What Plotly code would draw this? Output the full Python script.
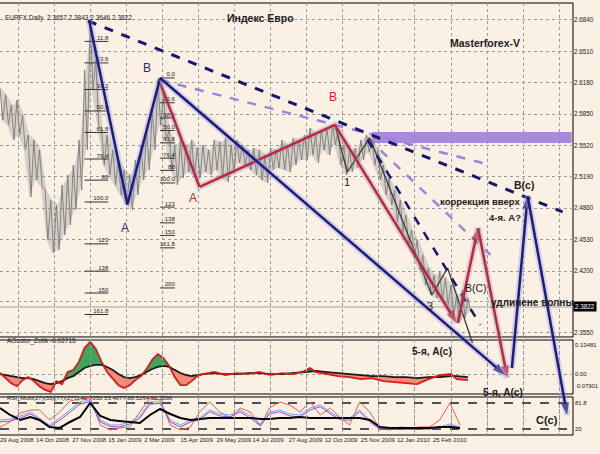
import plotly.graph_objects as go

# ---------------- axis ticks ----------------
date_tick_bars = [0, 32, 64, 96, 128, 160, 192, 224, 256, 288, 320, 352, 384]
date_tick_text = ["29 Aug 2008", "14 Oct 2008", "27 Nov 2008", "15 Jan 2009", "2 Mar 2009",
                  "15 Apr 2009", "29 May 2009", "14 Jul 2009", "27 Aug 2009", "12 Oct 2009",
                  "25 Nov 2009", "12 Jan 2010", "25 Feb 2010"]
grid_bars = [16, 48, 80, 112, 144, 176, 208, 240, 272, 304, 336, 368, 400, 432, 464, 496]
price_ticks = [2.6840, 2.6510, 2.6180, 2.5850, 2.5520, 2.5190, 2.4860, 2.4530, 2.4200, 2.3880, 2.3550]
price_tick_text = ["2.6840", "2.6510", "2.6180", "2.5850", "2.5520", "2.5190", "2.4860", "2.4530",
                   "2.4200", "", "2.3550"]

# ---------------- price (high / low, every 5 bars) ----------------
price_bars = [0, 5, 10, 15, 20, 25, 30, 35, 40, 45, 50, 55, 60, 65, 70, 75, 80, 85, 90, 95,
              100, 105, 110, 115, 120, 125, 130, 135, 140, 145, 150, 155, 160, 165, 170, 175,
              180, 185, 190, 195, 200, 205, 210, 215, 220, 225, 230, 235, 240, 245, 250, 255,
              260, 265, 270, 275, 280, 285, 290, 295, 300, 305, 310, 315, 320, 325, 330, 335,
              340, 345, 350, 355, 360, 365, 370, 375, 380, 385, 390, 395, 400, 405, 410, 415]
price_high = [2.6125, 2.6051, 2.5946, 2.5998, 2.5841, 2.5630, 2.5578, 2.5473, 2.5052, 2.4947,
              2.4894, 2.5105, 2.5210, 2.5315, 2.5578, 2.6314, 2.6840, 2.6419, 2.5683, 2.5630,
              2.5473, 2.5368, 2.5262, 2.5210, 2.5368, 2.5525, 2.5683, 2.5893, 2.6209, 2.6051,
              2.5683, 2.5525, 2.5578, 2.5525, 2.5578, 2.5494, 2.5525, 2.5473, 2.5578, 2.5557,
              2.5599, 2.5525, 2.5578, 2.5525, 2.5473, 2.5494, 2.5473, 2.5420, 2.5494, 2.5473,
              2.5578, 2.5525, 2.5599, 2.5578, 2.5630, 2.5704, 2.5630, 2.5683, 2.5704, 2.5736,
              2.5683, 2.5525, 2.5473, 2.5494, 2.5578, 2.5630, 2.5578, 2.5473, 2.5315, 2.5178,
              2.5052, 2.4947, 2.4789, 2.4632, 2.4526, 2.4369, 2.4232, 2.4158, 2.4190, 2.4127,
              2.4053, 2.3948, 2.4001, 2.3916]
price_low = [2.5788, 2.5736, 2.5578, 2.5630, 2.5473, 2.4979, 2.5157, 2.5084, 2.4526, 2.4390,
             2.4421, 2.4579, 2.4684, 2.4842, 2.5052, 2.5473, 2.6104, 2.5736, 2.5315, 2.5210,
             2.5105, 2.5000, 2.4894, 2.4842, 2.5000, 2.5157, 2.5262, 2.5473, 2.5736, 2.5578,
             2.5262, 2.5105, 2.5178, 2.5241, 2.5210, 2.5178, 2.5241, 2.5210, 2.5262, 2.5178,
             2.5136, 2.5241, 2.5336, 2.5315, 2.5262, 2.5210, 2.5157, 2.5126, 2.5262, 2.5283,
             2.5262, 2.5241, 2.5315, 2.5368, 2.5368, 2.5420, 2.5336, 2.5473, 2.5420, 2.5525,
             2.5315, 2.5210, 2.5241, 2.5283, 2.5368, 2.5452, 2.5315, 2.5157, 2.5000, 2.4894,
             2.4716, 2.4610, 2.4474, 2.4337, 2.4211, 2.4053, 2.3948, 2.3916, 2.3895, 2.3843,
             2.3738, 2.3664, 2.3706, 2.3769]
last_close = 2.3822
header_text = "EURFX,Daily  2.3657 2.3843 2.3646 2.3822"

# ---------------- wave / trend lines (bar index, price) ----------------
navy_wave_bars, navy_wave_price = [79, 113, 142], [2.6840, 2.4900, 2.6230]
navy_long_bars, navy_long_price = [142, 448], [2.6230, 2.3107]
navy_up_bars, navy_up_price = [454, 468], [2.3180, 2.4989]
navy_down_bars, navy_down_price = [468, 503], [2.4989, 2.2686]
navy_dash_top_bars, navy_dash_top_price = [78, 499], [2.6830, 2.4821]
navy_dash_ch_bars, navy_dash_ch_price = [326, 426], [2.5578, 2.3633]
red_wave_bars, red_wave_price = [142, 177, 297, 405], [2.6180, 2.5084, 2.5736, 2.3654]
red_up_bars, red_up_price = [406, 424], [2.3654, 2.4653]
red_down_bars, red_down_price = [424, 450], [2.4653, 2.3075]
lav_dash1_bars, lav_dash1_price = [142, 435], [2.6209, 2.5315]
lav_dash2_bars, lav_dash2_price = [326, 435], [2.5599, 2.4369]
gray_wave_bars = [297, 308, 328, 383, 397, 419]
gray_wave_price = [2.5736, 2.5241, 2.5599, 2.3948, 2.4232, 2.3443]
zone_bars, zone_price = [330, 507], [2.5547, 2.5662]

# ---------------- Fibonacci grids ----------------
fib1_bars, fib1_high, fib1_low = [75, 96], 2.6840, 2.4926
fib1_levels = [11.8, 23.6, 38.2, 50.0, 61.8, 76.4, 88.0, 100.0, 123.0, 138.0, 150.0, 161.8]
fib1_text = ["11.8", "23.6", "38.2", "50.0", "61.8", "76.4", "88", "100.0", "123", "138", "150", "161.8"]
fib2_bars, fib2_high, fib2_low = [142, 155], 2.6230, 2.5126
fib2_levels = [0.0, 23.6, 38.2, 50.0, 61.8, 76.4, 88.0, 100.0, 123.0, 138.0, 150.0, 161.8, 200.0]
fib2_text = ["0.0", "23.6", "38.2", "50.0", "61.8", "76.4", "88", "100.0", "123", "138", "150", "161.8", "200"]

# ---------------- oscillator ----------------
osc_bars = [0, 5, 10, 15, 20, 25, 30, 35, 40, 45, 50, 55, 60, 65, 70, 75, 80, 85, 90, 95, 100,
            105, 110, 115, 120, 125, 130, 135, 140, 145, 150, 155, 160, 165, 170, 175, 180,
            190, 200, 210, 220, 230, 240, 250, 260, 270, 275, 280, 290, 300, 310, 320, 330,
            340, 350, 360, 370, 380, 390, 400, 405, 415]
osc_value = [0.004, -0.016, -0.036, -0.048, -0.024, -0.012, -0.028, -0.048, -0.063, -0.071,
             -0.028, -0.040, 0.008, 0.016, 0.048, 0.103, 0.127, 0.099, 0.048, 0.008, -0.016,
             -0.044, -0.055, -0.044, -0.024, -0.008, 0.020, 0.056, 0.079, 0.063, 0.032,
             -0.012, -0.044, -0.044, -0.028, -0.008, 0.000,
             0.008, -0.004, 0.004, 0.000, 0.008, -0.004, 0.004, 0.000,
             0.012, 0.024, 0.008,
             0.000, -0.008, -0.012, -0.020, -0.016, -0.028, -0.032, -0.036, -0.040, -0.020,
             -0.004, 0.000, -0.020, -0.024]
osc_signal = [0.000, -0.004, -0.008, -0.012, -0.016, -0.016, -0.020, -0.028, -0.036, -0.040,
              -0.036, -0.028, -0.016, -0.008, 0.008, 0.024, 0.032, 0.036, 0.036, 0.028, 0.016,
              0.000, -0.012, -0.016, -0.012, -0.004, 0.008, 0.020, 0.028, 0.032, 0.028,
              0.016, 0.004, -0.004, -0.008, -0.004, 0.000,
              0.004, 0.000, 0.000, 0.004, 0.004, 0.000, 0.000, 0.004,
              0.008, 0.012, 0.012,
              0.008, 0.004, 0.000, -0.004, -0.008, -0.008, -0.012, -0.012, -0.016, -0.012,
              -0.012, -0.008, -0.008, -0.012]
osc_label = "AOcolor_Zotik -0.02715"

# ---------------- multi RSI ----------------
rsi_bars = [0, 9, 18, 27, 35, 44, 53, 62, 71, 80, 89, 98, 106, 115, 124, 133, 142, 151, 160, 169,
            177, 186, 195, 204, 213, 222, 231, 239, 248, 257, 266, 275, 284, 293, 302, 310, 319,
            328, 337, 346, 355, 364, 372, 381, 390, 399, 408]
rsi_black = [68.9, 52.4, 40.5, 47.6, 40.5, 24.0, 21.6, 35.8, 47.6, 80.8, 50.0, 40.5, 38.2, 35.8,
             33.4, 52.4, 66.6, 54.7, 45.3, 40.5, 42.9, 45.3, 45.3, 45.3, 45.3, 45.3, 42.9, 42.9,
             45.3, 45.3, 47.6, 45.3, 45.3, 45.3, 45.3, 45.3, 45.3, 40.5, 24.0, 21.6, 21.6, 21.6,
             21.6, 21.6, 24.0, 24.0, 21.6]
rsi_red = [24.0, 35.8, 57.1, 64.2, 64.2, 40.5, 59.5, 85.5, 90.3, 92.6, 28.7, 16.9, 21.6, 24.0,
           59.5, 92.6, 87.9, 28.7, 16.9, 24.0, 59.5, 83.2, 59.5, 45.3, 68.9, 59.5, 26.3, 68.9,
           83.2, 76.1, 59.5, 83.2, 52.4, 68.9, 45.3, 28.7, 83.2, 59.5, 19.2, 16.9, 24.0, 21.6,
           24.0, 24.0, 40.5, 80.8, 28.7]
rsi_blue = [40.5, 42.9, 50.0, 59.5, 45.3, 28.7, 45.3, 64.2, 83.2, 87.9, 40.5, 28.7, 28.7, 35.8,
            50.0, 83.2, 83.2, 40.5, 28.7, 40.5, 45.3, 64.2, 54.7, 52.4, 64.2, 50.0, 31.1, 59.5,
            64.2, 54.7, 52.4, 68.9, 76.1, 59.5, 45.3, 45.3, 64.2, 40.5, 21.6, 21.6, 21.6, 21.6,
            21.6, 21.6, 24.0, 31.1, 24.0]
rsi_purple = [36, 38, 45, 55, 42, 25, 40, 60, 78, 84, 36, 25, 24, 31, 45, 78, 80, 36, 24, 36,
              41, 60, 50, 48, 60, 45, 27, 55, 60, 50, 48, 64, 72, 55, 41, 40, 60, 36, 18, 18,
              19, 18, 19, 19, 22, 27, 21]
rsi_levels = [20, 80]
rsi_label = "RSI_Multi(27)(55)(77)(277) 42.7050 53.4077 88.5264 50.3596"

# ---------------- text labels on the chart ----------------
wave_labels = [  # (text, bar, price, color, size, bold, anchor)
    ("A", 111, 2.4653, "#24306e", 12, False, "center"),
    ("B", 130, 2.6335, "#24306e", 12, False, "center"),
    ("A", 171, 2.4968, "#c0282d", 12, False, "center"),
    ("B", 295, 2.6030, "#c0282d", 12, False, "center"),
    ("1", 308, 2.5136, "#202020", 11, False, "center"),
    ("3", 381, 2.3832, "#202020", 11, False, "center"),
    ("коррекция вверх", 426, 2.4926, "#202020", 9.5, True, "center"),
    ("4-я. A?", 448, 2.4768, "#202020", 9.5, True, "center"),
    ("B(C)", 422, 2.4022, "#202020", 10.5, False, "center"),
    ("B(c)", 465, 2.5105, "#202020", 10.5, True, "center"),
    ("удлинене волны", 434, 2.3864, "#202020", 10, True, "left"),
    ("5-я, A(c)", 383, 2.3349, "#202020", 10, True, "center"),
    ("5-я, A(c)", 446, 2.2918, "#202020", 10, True, "center"),
    ("C(c)", 485, 2.2634, "#202020", 11, True, "center"),
]

FONT = "Liberation Sans, Arial, sans-serif"
BG = "#faf0e4"
GRID = "#9a9a9a"

fig = go.Figure()

# ===== oscillator panel (xy) =====
upper = [max(a, b) for a, b in zip(osc_value, osc_signal)]
lower = [min(a, b) for a, b in zip(osc_value, osc_signal)]
common = dict(xaxis="x", yaxis="y", showlegend=False, hoverinfo="skip", mode="lines")
fig.add_trace(go.Scatter(x=osc_bars, y=osc_signal, line=dict(width=0), **common))
fig.add_trace(go.Scatter(x=osc_bars, y=upper, fill="tonexty", fillcolor="#3ea65f", line=dict(width=0), **common))
fig.add_trace(go.Scatter(x=osc_bars, y=osc_signal, line=dict(width=0), **common))
fig.add_trace(go.Scatter(x=osc_bars, y=lower, fill="tonexty", fillcolor="#f58a78", line=dict(width=0), **common))
fig.add_trace(go.Scatter(x=osc_bars, y=osc_signal, line=dict(width=1.8, color="#1a1a1a"), **common))
fig.add_trace(go.Scatter(x=osc_bars, y=osc_value, line=dict(width=1.8, color="#d41c1c"), **common))

# ===== RSI panel (xy2) =====
common2 = dict(xaxis="x", yaxis="y2", showlegend=False, hoverinfo="skip", mode="lines")
fig.add_trace(go.Scatter(x=rsi_bars, y=rsi_red, line=dict(width=1, color="#f0604c"), **common2))
fig.add_trace(go.Scatter(x=rsi_bars, y=rsi_blue, line=dict(width=1, color="#7f9ff0"), **common2))
fig.add_trace(go.Scatter(x=rsi_bars, y=rsi_purple, line=dict(width=1, color="#8e4ecb"), **common2))
fig.add_trace(go.Scatter(x=rsi_bars, y=rsi_black, line=dict(width=2, color="#000000"), **common2))

# ===== main price panel (xy3) =====
common3 = dict(xaxis="x", yaxis="y3", showlegend=False, hoverinfo="skip")

# resistance zone
fig.add_trace(go.Scatter(x=[zone_bars[0], zone_bars[1], zone_bars[1], zone_bars[0], zone_bars[0]],
                         y=[zone_price[0], zone_price[0], zone_price[1], zone_price[1], zone_price[0]],
                         fill="toself", fillcolor="rgba(160,125,215,0.9)", mode="lines",
                         line=dict(width=0), **common3))

# bid line
fig.add_trace(go.Scatter(x=[0, 508], y=[last_close, last_close], mode="lines",
                         line=dict(width=1, color="#a0a0a0"), **common3))

# price: light high-low band + jagged bar trace
fig.add_trace(go.Scatter(x=[b + 1.2 for b in price_bars], y=price_high, mode="lines",
                         line=dict(width=0), **common3))
fig.add_trace(go.Scatter(x=[b + 1.2 for b in price_bars], y=price_low, mode="lines",
                         fill="tonexty", fillcolor="rgba(125,125,125,0.28)",
                         line=dict(width=0), **common3))
zx, zy = [], []
for b, h, l in zip(price_bars, price_high, price_low):
    zx += [b, b + 2.5]
    zy += [h, l]
fig.add_trace(go.Scatter(x=zx, y=zy, mode="lines", line=dict(width=0.9, color="#7a7a7a"), **common3))

# fib grids
def fib(bars, hi, lo, levels, texts):
    fx, fy = [], []
    for lv in levels:
        p = hi - lv / 100.0 * (hi - lo)
        fx += [bars[0], bars[1], None]
        fy += [p, p, None]
    fig.add_trace(go.Scatter(x=fx, y=fy, mode="lines", line=dict(width=1, color="#303030"), **common3))
    fig.add_trace(go.Scatter(x=[bars[1]] * len(levels),
                             y=[hi - lv / 100.0 * (hi - lo) for lv in levels],
                             text=texts, mode="text", textposition="top left",
                             textfont=dict(size=6, color="#202020", family=FONT), **common3))

fib(fib1_bars, fib1_high, fib1_low, fib1_levels, fib1_text)
fib(fib2_bars, fib2_high, fib2_low, fib2_levels, fib2_text)


def line(xs, ys, color, width, dash=None, arrow=False, halo=False):
    if halo:
        fig.add_trace(go.Scatter(x=xs, y=ys, mode="lines",
                                 line=dict(width=width + 4, color="rgba(150,150,215,0.35)"), **common3))
    tr = dict(x=xs, y=ys, line=dict(width=width, color=color, dash=dash))
    if arrow:
        tr["mode"] = "lines+markers"
        tr["marker"] = dict(symbol="arrow", size=[0] * (len(xs) - 1) + [13], color=color,
                            angleref="previous", line=dict(width=0))
    else:
        tr["mode"] = "lines"
    fig.add_trace(go.Scatter(**tr, **common3))


line(lav_dash1_bars, lav_dash1_price, "#a080e0", 2.5, dash="dash")
line(lav_dash2_bars, lav_dash2_price, "#a080e0", 2.5, dash="dash")
line(gray_wave_bars, gray_wave_price, "#3a3a3a", 1.3)
line(navy_dash_top_bars, navy_dash_top_price, "#16166e", 3, dash="dash")
line(navy_dash_ch_bars, navy_dash_ch_price, "#16166e", 2.5, dash="dash")
line(red_wave_bars, red_wave_price, "#c0282d", 2.5, arrow=True, halo=True)
line(red_up_bars, red_up_price, "#c0282d", 2.5, arrow=True, halo=True)
line(red_down_bars, red_down_price, "#c0282d", 2.5, arrow=True, halo=True)
line(navy_wave_bars, navy_wave_price, "#1c1c80", 2.5, halo=True)
line(navy_long_bars, navy_long_price, "#1c1c80", 2.5, arrow=True, halo=True)
line(navy_up_bars, navy_up_price, "#1c1c80", 2.5, arrow=True, halo=True)
line(navy_down_bars, navy_down_price, "#1c1c80", 2.5, arrow=True, halo=True)

# ===== annotations =====
ann = []
for t, b, p, c, s, bold, anc in wave_labels:
    ann.append(dict(x=b, y=p, xref="x", yref="y3", text=("<b>%s</b>" % t) if bold else t,
                    showarrow=False, font=dict(size=s, color=c, family=FONT), xanchor=anc))
ann += [
    dict(x=0.005, y=0.979, xref="paper", yref="paper", text=header_text, showarrow=False,
         xanchor="left", font=dict(size=6.5, color="#202020", family=FONT)),
    dict(x=0.4538, y=0.984, xref="paper", yref="paper", text="<b>Индекс Евро</b>", showarrow=False,
         font=dict(size=10.5, color="#202020", family=FONT)),
    dict(x=0.911, y=0.926, xref="paper", yref="paper", text="<b>Masterforex-V</b>", showarrow=False,
         font=dict(size=10.5, color="#202020", family=FONT)),
    dict(x=0.008, y=0.2037, xref="paper", yref="paper", text=osc_label, showarrow=False,
         xanchor="left", font=dict(size=6.5, color="#202020", family=FONT)),
    dict(x=0.008, y=0.074, xref="paper", yref="paper", text=rsi_label, showarrow=False,
         xanchor="left", font=dict(size=6, color="#202020", family=FONT)),
    dict(x=1, y=last_close, xref="paper", yref="y3", text="2.3822", showarrow=False,
         xanchor="left", bgcolor="#000000", borderpad=1, font=dict(size=6.3, color="#ffffff", family=FONT)),
    dict(x=1, y=0.13481, xref="paper", yref="y", text="0.13481", showarrow=False, xanchor="left",
         yanchor="top", font=dict(size=6, color="#202020", family=FONT)),
    dict(x=1, y=0.0, xref="paper", yref="y", text="0.00", showarrow=False, xanchor="left",
         font=dict(size=6, color="#202020", family=FONT)),
    dict(x=1, y=-0.07901, xref="paper", yref="y", text="-0.07901", showarrow=False, xanchor="left",
         yanchor="bottom", yshift=3, font=dict(size=5.8, color="#202020", family=FONT)),
    dict(x=1, y=80, xref="paper", yref="y2", text="81.8", showarrow=False, xanchor="left",
         font=dict(size=6, color="#202020", family=FONT)),
    dict(x=1, y=20, xref="paper", yref="y2", text="20", showarrow=False, xanchor="left",
         font=dict(size=6, color="#202020", family=FONT)),
]

# panel borders
main_y0, osc_dom, rsi_dom = 0.2269, [0.0949, 0.2199], [0.0, 0.0880]
shapes = []
for y0, y1 in [(main_y0, 1.0), tuple(osc_dom), tuple(rsi_dom)]:
    shapes.append(dict(type="rect", xref="paper", yref="paper", x0=-0.01, x1=1, y0=y0, y1=y1,
                       line=dict(color="#000000", width=1), layer="below"))

fig.update_layout(
    width=600, height=454,
    margin=dict(l=0, r=27, t=3, b=19),
    paper_bgcolor=BG, plot_bgcolor="rgba(0,0,0,0)",
    showlegend=False,
    xaxis=dict(domain=[0, 1], range=[0, 508.2], anchor="y2", tickmode="array",
               tickvals=date_tick_bars, ticktext=date_tick_text, ticklabelposition="outside right",
               tickangle=0, ticks="", showgrid=False, zeroline=False, showline=False,
               tickfont=dict(size=6, color="#202020", family=FONT),
               minor=dict(tickmode="array", tickvals=grid_bars, showgrid=True, gridcolor=GRID,
                          griddash="dot", gridwidth=1, ticks="")),
    yaxis=dict(domain=osc_dom, range=[-0.07901, 0.13481], anchor="x", tickvals=[0],
               showticklabels=False, showgrid=True, gridcolor=GRID, griddash="dot",
               zeroline=False, ticks=""),
    yaxis2=dict(domain=rsi_dom, range=[5, 95], anchor="x", tickvals=rsi_levels,
                showticklabels=False, showgrid=True, gridcolor="#505050", griddash="dash",
                gridwidth=1.5, zeroline=False, ticks=""),
    yaxis3=dict(domain=[0, 1], range=[2.2476, 2.7018], anchor="x", side="right",
                tickvals=price_ticks, ticktext=price_tick_text,
                showgrid=True, gridcolor=GRID, griddash="dot", zeroline=False, ticks="",
                tickfont=dict(size=6.3, color="#202020", family=FONT)),
    annotations=ann,
    shapes=shapes,
)

fig.write_html("out.html", config={"displayModeBar": False},
               post_script="document.body.style.margin='0px';document.body.style.background='%s';" % BG)
